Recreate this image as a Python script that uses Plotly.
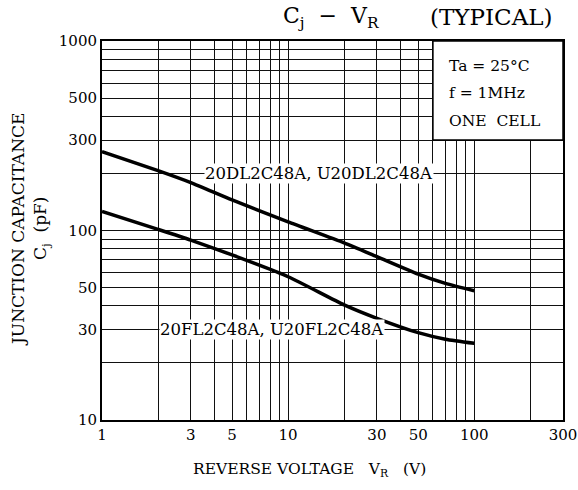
import math
import plotly.graph_objects as go

# Data
vr = [1, 2, 3, 5, 10, 20, 30, 50, 70, 100]
cj_dl = [261, 207, 179, 145, 111, 86, 72.8, 58.9, 52.6, 48.1]
cj_fl = [126, 101.4, 89, 74.3, 57, 40.5, 34.4, 28.9, 26.7, 25.4]

x_ticks = [1, 3, 5, 10, 30, 50, 100, 300]
x_minor = [2, 4, 6, 7, 8, 9, 20, 40, 60, 70, 80, 90, 200]
y_ticks = [10, 30, 50, 100, 300, 500, 1000]
y_minor = [20, 40, 60, 70, 80, 90, 200, 400, 600, 700, 800, 900]

FONT = "DejaVu Serif"
L, R, T, B = 102, 15, 41, 70
W, H = 578, 490
PW, PH = W - L - R, H - T - B


def px(xp):
    return (xp - L) / PW


def py(yp):
    return 1 - (yp - T) / PH


fig = go.Figure()
for ys in (cj_dl, cj_fl):
    fig.add_trace(go.Scatter(x=vr, y=ys, mode="lines",
                             line=dict(color="black", width=3.5, shape="spline", smoothing=0.6),
                             showlegend=False, hoverinfo="skip"))

fig.update_xaxes(type="log", range=[0, math.log10(300)], tickvals=x_ticks,
                 ticktext=[str(v) for v in x_ticks],
                 showgrid=True, gridcolor="#111", gridwidth=1,
                 minor=dict(tickvals=x_minor, showgrid=True, gridcolor="#111", gridwidth=1, ticks=""),
                 showline=True, linecolor="black", linewidth=2, mirror=True,
                 ticks="", tickfont=dict(family=FONT, size=15, color="black"),
                 zeroline=False, automargin=False)
fig.update_yaxes(type="log", range=[1, 3], tickvals=y_ticks,
                 ticktext=[str(v) for v in y_ticks],
                 showgrid=True, gridcolor="#111", gridwidth=1,
                 minor=dict(tickvals=y_minor, showgrid=True, gridcolor="#111", gridwidth=1, ticks=""),
                 showline=True, linecolor="black", linewidth=2, mirror=True,
                 ticks="", tickfont=dict(family=FONT, size=15, color="black"),
                 zeroline=False, automargin=False)

# condition box
fig.add_shape(type="rect", xref="x", yref="y", x0=60, x1=300, y0=300, y1=1000,
              fillcolor="white", line=dict(color="black", width=1.5), layer="above")
for txt, yp in [("Ta = 25°C", 66), ("f = 1MHz", 93), ("ONE  CELL", 121)]:
    fig.add_annotation(x=px(447), y=py(yp), xref="paper", yref="paper", text=txt, showarrow=False,
                       xanchor="left", yanchor="middle",
                       font=dict(family=FONT, size=15.5, color="black"))

# curve labels
fig.add_annotation(x=px(318.5), y=math.log10(200), xref="paper", yref="y", text="20DL2C48A, U20DL2C48A",
                   showarrow=False, xanchor="center", bgcolor="white", borderpad=0,
                   font=dict(family=FONT, size=16.5, color="black"))
fig.add_annotation(x=px(272), y=math.log10(30), xref="paper", yref="y", text="20FL2C48A, U20FL2C48A",
                   showarrow=False, xanchor="center", bgcolor="white", borderpad=0,
                   font=dict(family=FONT, size=16.5, color="black"))

# title
fig.add_annotation(text="C<sub>j</sub>  −  V<sub>R</sub>", xref="paper", yref="paper",
                   x=px(331), y=py(18), xanchor="center", yanchor="middle",
                   showarrow=False, font=dict(family=FONT, size=22, color="black"))
fig.add_annotation(text="(TYPICAL)", xref="paper", yref="paper",
                   x=px(491), y=py(17), xanchor="center", yanchor="middle",
                   showarrow=False, font=dict(family=FONT, size=23, color="black"))

# axis titles
fig.add_annotation(text="REVERSE VOLTAGE   V<sub>R</sub>   (V)", xref="paper", yref="paper",
                   x=px(309), y=py(470), xanchor="center", yanchor="middle",
                   showarrow=False, font=dict(family=FONT, size=15.5, color="black"))
fig.add_annotation(text="JUNCTION CAPACITANCE<br>C<sub>j</sub>  (pF)", xref="paper", yref="paper",
                   x=px(30), y=py(230), xanchor="center", yanchor="middle", textangle=-90,
                   showarrow=False, font=dict(family=FONT, size=17, color="black"))

fig.update_layout(width=W, height=H, margin=dict(l=L, r=R, t=T, b=B),
                  plot_bgcolor="white", paper_bgcolor="white")
fig.write_html("out.html", config={"displayModeBar": False},
               post_script="document.body.style.margin='0';")
